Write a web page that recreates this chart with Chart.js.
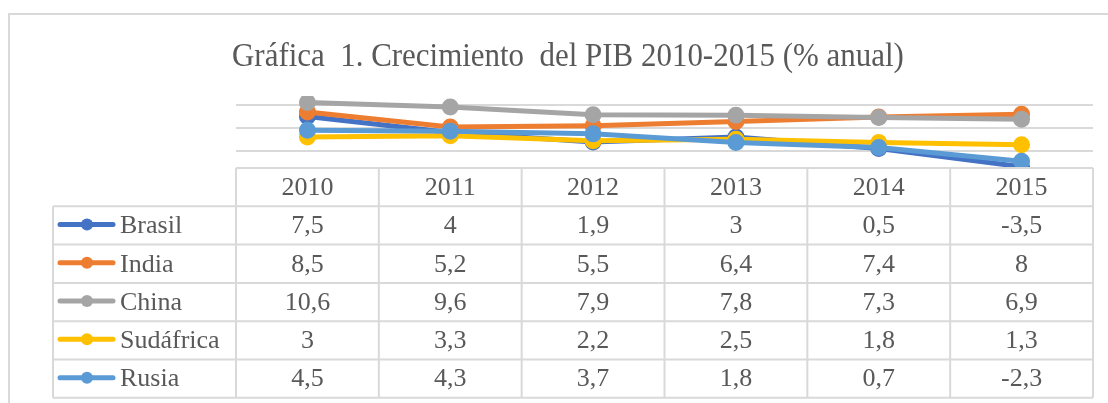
<!DOCTYPE html>
<html>
<head>
<meta charset="utf-8">
<script src="https://cdn.jsdelivr.net/npm/chart.js@4"></script>
<style>
  html, body { margin: 0; padding: 0; background: #ffffff; }
  #wrap { width: 1108px; height: 403px; position: relative; }
</style>
</head>
<body>
<div id="wrap"><canvas id="pibChart"></canvas></div>
<script>
// years on the category axis
const years = [`2010`, `2011`, `2012`, `2013`, `2014`, `2015`]
// countries and their colours
const countries = [`Brasil`, `India`, `China`, `Sudáfrica`, `Rusia`]
const colors = [`#4472C4`, `#ED7D31`, `#A5A5A5`, `#FFC000`, `#5B9BD5`]
// GDP growth, % per year
const brasil = [7.5, 4, 1.9, 3, 0.5, -3.5]
const india = [8.5, 5.2, 5.5, 6.4, 7.4, 8]
const china = [10.6, 9.6, 7.9, 7.8, 7.3, 6.9]
const sudafrica = [3, 3.3, 2.2, 2.5, 1.8, 1.3]
const rusia = [4.5, 4.3, 3.7, 1.8, 0.7, -2.3]
const series = [brasil, india, china, sudafrica, rusia]

const titleText = `Gráfica  1. Crecimiento  del PIB 2010-2015 (% anual)`
const textColor = `#595959`
const lineColor = `#d9d9d9`
const serif = `"Liberation Serif", "Times New Roman", serif`

// comma as decimal separator, like the source sheet
const fmt = (v) => String(v).replace(`.`, `,`)

// title, outer frame and the data table under the plot
const tablePlugin = {
  id: `dataTable`,
  afterDraw(chart) {
    const ctx = chart.ctx
    const x = chart.scales.x
    const area = chart.chartArea
    const cellW = (area.right - area.left) / years.length
    const headTop = 168
    const rowH = 38.3
    const keyLeft = 53

    ctx.save()
    // frame
    ctx.strokeStyle = lineColor
    ctx.lineWidth = 2
    ctx.strokeRect(9, 14, 1200, 500)

    // title, slightly condensed
    ctx.save()
    ctx.fillStyle = textColor
    ctx.font = `34px ${serif}`
    ctx.textAlign = `left`
    ctx.textBaseline = `alphabetic`
    ctx.translate(232, 66)
    ctx.scale(0.91, 1)
    ctx.fillText(titleText, 0, 0)
    ctx.restore()

    // grid of the table
    ctx.beginPath()
    ctx.moveTo(area.left, headTop)
    ctx.lineTo(area.right, headTop)
    for (let r = 1; r <= countries.length + 1; r++) {
      const y = headTop + r * rowH
      ctx.moveTo(keyLeft, y)
      ctx.lineTo(area.right, y)
    }
    for (let c = 0; c <= years.length; c++) {
      const cx = area.left + c * cellW
      ctx.moveTo(cx, headTop)
      ctx.lineTo(cx, headTop + (countries.length + 1) * rowH)
    }
    ctx.moveTo(keyLeft, headTop + rowH)
    ctx.lineTo(keyLeft, headTop + (countries.length + 1) * rowH)
    ctx.stroke()

    ctx.font = `26px ${serif}`
    ctx.textBaseline = `middle`
    ctx.fillStyle = textColor
    ctx.textAlign = `center`
    years.forEach((yr, i) => {
      ctx.fillText(yr, x.getPixelForValue(i), headTop + rowH / 2 + 1)
    })

    countries.forEach((name, r) => {
      const cy = headTop + (r + 1) * rowH + rowH / 2
      // legend key
      ctx.strokeStyle = colors[r]
      ctx.lineWidth = 5
      ctx.lineCap = `round`
      ctx.beginPath()
      ctx.moveTo(60, cy - 1)
      ctx.lineTo(113, cy - 1)
      ctx.stroke()
      ctx.fillStyle = colors[r]
      ctx.beginPath()
      ctx.arc(87, cy - 1, 6, 0, Math.PI * 2)
      ctx.fill()

      ctx.fillStyle = textColor
      ctx.textAlign = `left`
      ctx.fillText(name, 120, cy + 1)
      ctx.textAlign = `center`
      series[r].forEach((v, i) => {
        ctx.fillText(fmt(v), x.getPixelForValue(i), cy + 1)
      })
    })
    ctx.restore()
  },
}

const canvas = document.getElementById(`pibChart`)

new Chart(canvas, {
  type: `line`,
  data: {
    labels: years,
    datasets: countries.map((name, i) => ({
      label: name,
      data: series[i],
      borderColor: colors[i],
      backgroundColor: colors[i],
      borderWidth: 5,
      pointRadius: 6,
      pointHoverRadius: 6,
      tension: 0,
      order: countries.length - i, // last series painted on top
    })),
  },
  options: {
    responsive: true,
    maintainAspectRatio: false,
    animation: false,
    layout: {
      padding: { left: 236, right: 15, top: 96, bottom: 403 - 169 },
    },
    scales: {
      x: {
        display: false,
        offset: true,
      },
      y: {
        min: -4,
        max: 12,
        border: { display: false },
        ticks: { display: false },
        // gridlines only at 0, 5 and 10
        afterBuildTicks: (scale) => {
          scale.ticks = [0, 5, 10].map((v) => ({ value: v }))
        },
        grid: { color: lineColor, lineWidth: 2, drawTicks: false },
      },
    },
    plugins: {
      legend: { display: false },
      tooltip: { enabled: false },
    },
  },
  plugins: [tablePlugin],
})
</script>
</body>
</html>
